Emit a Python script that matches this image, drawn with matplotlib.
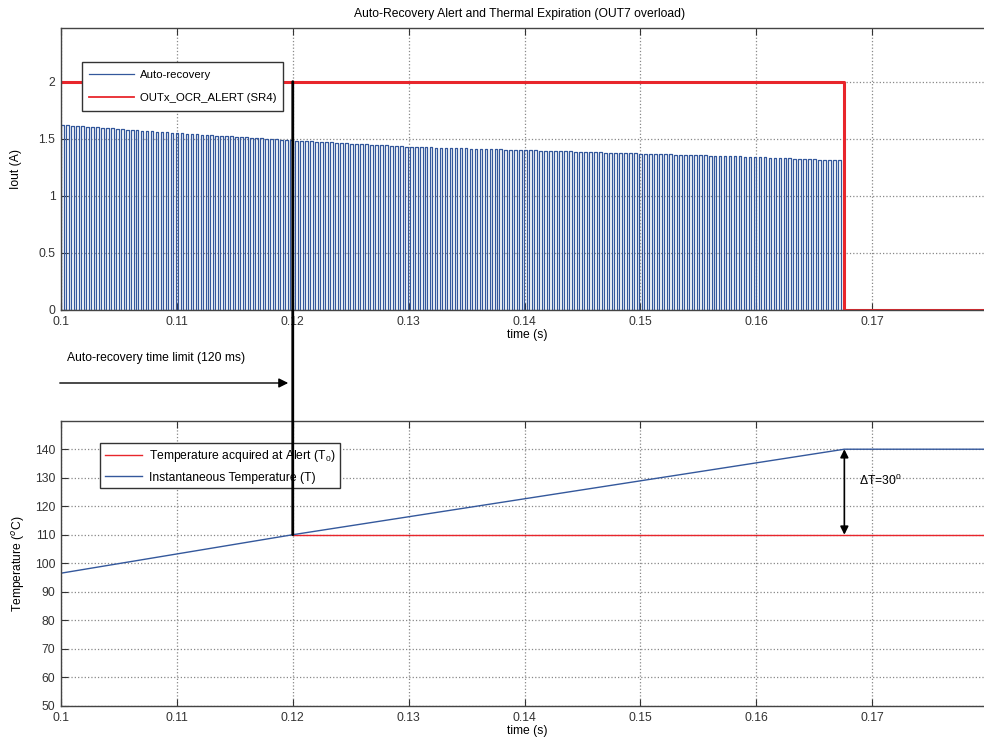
import matplotlib
matplotlib.use('Agg')
import matplotlib.pyplot as plt
from matplotlib.patches import ConnectionPatch, FancyArrowPatch
import numpy as np

plt.rcParams['font.family'] = ['Liberation Sans', 'DejaVu Sans']
plt.rcParams['mathtext.fontset'] = 'custom'
plt.rcParams['mathtext.rm'] = 'Liberation Sans'

# --- data ---
# auto-recovery pulse train (peak current envelope)
pulse_first = 0.1
pulse_last = 0.1672
pulse_period = 0.00043
env_t = [0.100, 0.110, 0.120, 0.130, 0.140, 0.150, 0.160, 0.1672]
env_i = [1.62, 1.55, 1.485, 1.43, 1.40, 1.37, 1.34, 1.31]

# OCR alert flag
alert_t = [0.1, 0.1676, 0.1676, 0.18]
alert_i = [2.0, 2.0, 0.0, 0.0]

# temperature
temp_t = [0.1, 0.12, 0.1676, 0.18]
temp_v = [96.5, 110.0, 140.0, 140.0]
t0_t = [0.12, 0.18]
t0_v = [110.0, 110.0]

t_alert = 0.12

xticks = [0.1, 0.11, 0.12, 0.13, 0.14, 0.15, 0.16, 0.17]
xlabels = ['0.1', '0.11', '0.12', '0.13', '0.14', '0.15', '0.16', '0.17']
yticks_i = [0, 0.5, 1, 1.5, 2]
yticks_t = [50, 60, 70, 80, 90, 100, 110, 120, 130, 140]

# build the step waveform of the pulses
starts = np.arange(pulse_first, pulse_last, pulse_period)
heights = np.interp(starts, env_t, env_i)
w = 0.55 * pulse_period
wt = [pulse_first]
wi = [0.0]
for s, h in zip(starts, heights):
    wt += [s, s, s + w, s + w]
    wi += [0.0, h, h, 0.0]
wt += [0.18]
wi += [0.0]

blue = '#34589c'
red = '#e8262c'
fs = 8.7

fig = plt.figure(figsize=(9.84, 7.40), dpi=100)
W, H = 984.0, 740.0

ax1 = fig.add_axes([61 / W, 1 - 310 / H, 1 - 61 / W + 0.01, 282 / H])
ax2 = fig.add_axes([61 / W, 1 - 706 / H, 1 - 61 / W + 0.01, 285 / H])

ax1.plot(wt, wi, color=blue, lw=0.9, label='Auto-recovery')
ax1.plot(alert_t, alert_i, color=red, lw=2.2, label='OUTx_OCR_ALERT (SR4)')
ax1.set_xlim(0.1, 0.1805)
ax1.set_ylim(0, 2.47)
ax1.set_yticks(yticks_i)
ax1.set_yticklabels(['0', '0.5', '1', '1.5', '2'])
ax1.set_ylabel('Iout (A)', fontsize=fs, labelpad=12)
ax1.set_xlabel('time (s)', fontsize=fs, labelpad=1)
leg1 = ax1.legend(loc='upper left', bbox_to_anchor=(0.0225, 0.879), fontsize=8.2,
                  handlelength=3.9, handletextpad=0.5, fancybox=False, framealpha=1,
                  edgecolor='#333333', borderpad=0.65, labelspacing=1.2,
                  borderaxespad=0)
leg1.get_frame().set_linewidth(1.0)
leg1.get_lines()[1].set_linewidth(1.3)

ax2.plot(t0_t, t0_v, color=red, lw=1.0, label='Temperature acquired at Alert (T$_0$)')
ax2.plot(temp_t, temp_v, color=blue, lw=1.0, label='Instantaneous Temperature (T)')
ax2.set_xlim(0.1, 0.1805)
ax2.set_ylim(49.9, 149.9)
ax2.set_yticks(yticks_t)
ax2.set_ylabel('Temperature ($^o$C)', fontsize=fs, labelpad=6)
ax2.set_xlabel('time (s)', fontsize=fs, labelpad=1)
leg2 = ax2.legend(loc='upper left', bbox_to_anchor=(0.042, 0.923), fontsize=fs,
                  handlelength=3.1, handletextpad=0.5, fancybox=False, framealpha=1,
                  edgecolor='#333333', borderpad=0.4, labelspacing=0.65,
                  borderaxespad=0)
leg2.get_frame().set_linewidth(1.0)

for ax in (ax1, ax2):
    ax.set_xticks(xticks)
    ax.set_xticklabels(xlabels)
    ax.grid(True, color='#888888', linestyle=':', linewidth=0.9)
    ax.tick_params(direction='in', top=True, right=True, length=5,
                   labelsize=fs, colors='#333333', pad=4)
    for sp in ax.spines.values():
        sp.set_color('#444444')
        sp.set_linewidth(1.0)

# delta T arrow
ax2.annotate('', xy=(0.1676, 140), xytext=(0.1676, 110),
             arrowprops=dict(arrowstyle='<|-|>', color='black', lw=1.2,
                             shrinkA=0, shrinkB=0, mutation_scale=12))
ax2.text(0.1689, 129, r'$\Delta$T=30$^0$', fontsize=fs, va='center', ha='left')

# alert marker spanning both axes
con = ConnectionPatch(xyA=(t_alert, 2.0), coordsA=ax1.transData,
                      xyB=(t_alert, 110), coordsB=ax2.transData,
                      color='black', lw=2.0)
fig.add_artist(con)

# time limit arrow between the plots
fig.text(67 / W, 1 - 358 / H, 'Auto-recovery time limit (120 ms)', fontsize=fs,
         va='center', ha='left')
fig.add_artist(FancyArrowPatch(
    (57 / W, 1 - 383 / H), (291 / W, 1 - 383 / H), transform=fig.transFigure,
    arrowstyle='-|>', mutation_scale=14, color='black', lw=1.0))

fig.text(520 / W, 1 - 14 / H, 'Auto-Recovery Alert and Thermal Expiration (OUT7 overload)',
         fontsize=fs, ha='center', va='center')

fig.savefig('out.png', dpi=100)
